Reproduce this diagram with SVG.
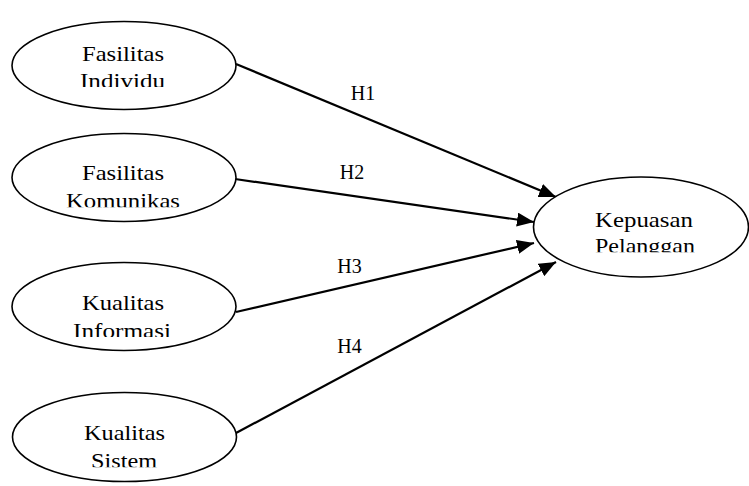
<svg xmlns="http://www.w3.org/2000/svg" width="749" height="486" viewBox="0 0 749 486">
<style>
.node ellipse{fill:#fff;stroke:#000;stroke-width:1.6}
.t{font-family:"Liberation Serif","Times New Roman",serif;font-size:21.5px;fill:#000}
.lbl{font-family:"Liberation Serif","Times New Roman",serif;font-size:20px;fill:#000;text-anchor:middle}
.conn line{stroke:#000;stroke-width:2.2}
</style>
<defs>
<marker id="ah" markerUnits="userSpaceOnUse" markerWidth="18" markerHeight="14" refX="17" refY="7" orient="auto">
<path d="M0,0 L17,7 L0,14 z" fill="#000"/>
</marker>
<clipPath id="c1"><rect x="0" y="0" width="300" height="87"/></clipPath>
<clipPath id="c2"><rect x="0" y="120" width="300" height="87.3"/></clipPath>
<clipPath id="c3"><rect x="0" y="250" width="300" height="87"/></clipPath>
<clipPath id="c4"><rect x="0" y="380" width="300" height="87.3"/></clipPath>
<clipPath id="c5"><rect x="500" y="160" width="249" height="92.3"/></clipPath>
</defs>
<g class="conn">
<line x1="236" y1="64" x2="556" y2="197" marker-end="url(#ah)"/>
<line x1="235" y1="179" x2="534" y2="222" marker-end="url(#ah)"/>
<line x1="236" y1="312" x2="534" y2="243" marker-end="url(#ah)"/>
<line x1="236" y1="433" x2="556" y2="262" marker-end="url(#ah)"/>
<text class="lbl" x="363" y="99.5">H1</text>
<text class="lbl" x="352" y="179">H2</text>
<text class="lbl" x="349.5" y="273">H3</text>
<text class="lbl" x="349.5" y="353">H4</text>
</g>
<g id="n1" class="node">
<ellipse cx="124" cy="65.5" rx="112" ry="44"/>
<g clip-path="url(#c1)">
<text class="t" x="82" y="60.7" textLength="82" lengthAdjust="spacingAndGlyphs">Fasilitas</text>
<text class="t" x="80" y="88" textLength="85" lengthAdjust="spacingAndGlyphs">Individu</text>
</g>
</g>
<g id="n2" class="node">
<ellipse cx="124" cy="177.5" rx="112" ry="44"/>
<g clip-path="url(#c2)">
<text class="t" x="82" y="180" textLength="82" lengthAdjust="spacingAndGlyphs">Fasilitas</text>
<text class="t" x="66" y="207.5" textLength="114" lengthAdjust="spacingAndGlyphs">Komunikas</text>
</g>
</g>
<g id="n3" class="node">
<ellipse cx="124" cy="306.5" rx="112" ry="44"/>
<g clip-path="url(#c3)">
<text class="t" x="82" y="310" textLength="82" lengthAdjust="spacingAndGlyphs">Kualitas</text>
<text class="t" x="73" y="337.5" textLength="98" lengthAdjust="spacingAndGlyphs">Informasi</text>
</g>
</g>
<g id="n4" class="node">
<ellipse cx="124.5" cy="437" rx="112" ry="44.5"/>
<g clip-path="url(#c4)">
<text class="t" x="84" y="440" textLength="81" lengthAdjust="spacingAndGlyphs">Kualitas</text>
<text class="t" x="91" y="467.5" textLength="66" lengthAdjust="spacingAndGlyphs">Sistem</text>
</g>
</g>
<g id="n5" class="node">
<ellipse cx="641" cy="227" rx="107.5" ry="50"/>
<g clip-path="url(#c5)">
<text class="t" x="595" y="226.7" textLength="98" lengthAdjust="spacingAndGlyphs">Kepuasan</text>
<text class="t" x="595" y="253" textLength="100" lengthAdjust="spacingAndGlyphs">Pelanggan</text>
</g>
</g>
</svg>
